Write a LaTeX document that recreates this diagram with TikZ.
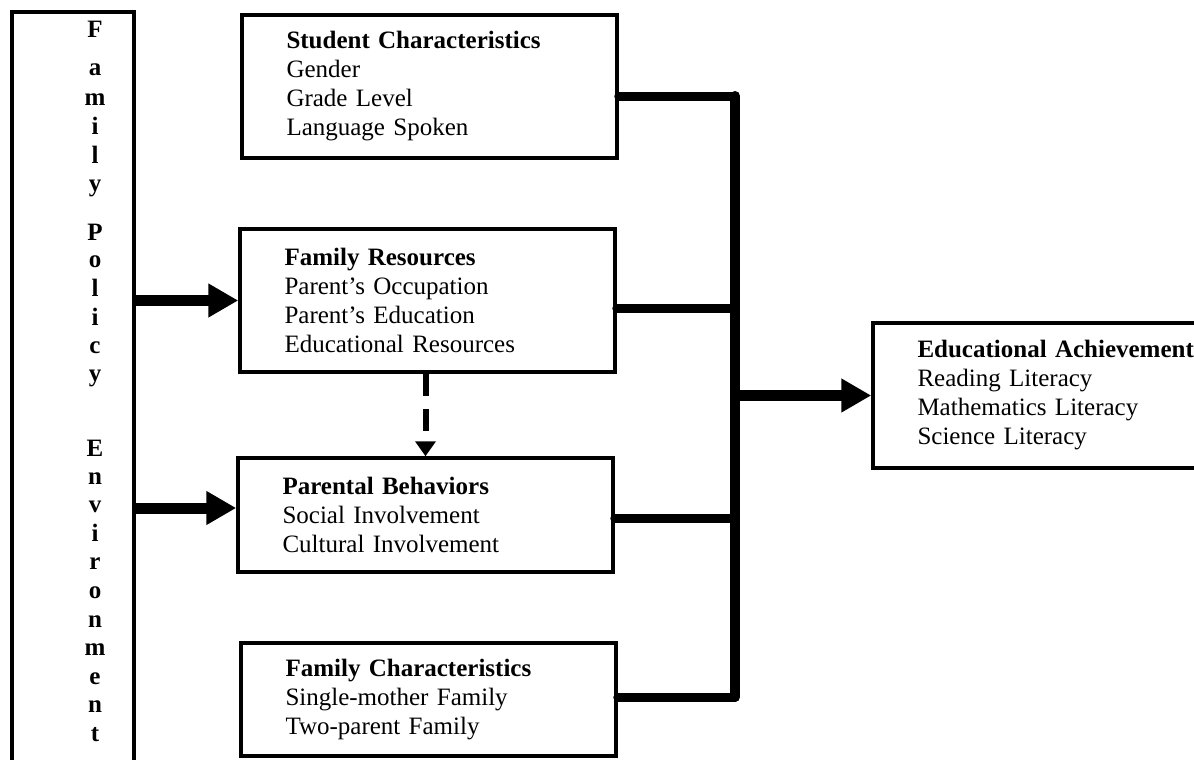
\documentclass[tikz,border=0pt]{standalone}
\usepackage{fontspec}
\setmainfont{Liberation Serif}
\usetikzlibrary{arrows.meta,positioning}

\begin{document}
\begin{tikzpicture}[x=1pt,y=-1pt,
    box/.style={draw, line width=3.5pt, minimum width=375pt, text width=286pt,
      inner xsep=44.5pt, inner ysep=0pt, align=left,
      font=\fontsize{25}{29}\selectfont},
    letter/.style={anchor=base, inner sep=0pt, font=\fontsize{25}{29}\selectfont\bfseries},
    link/.style={line width=9pt, line cap=round},
    bigarrow/.style={line width=11pt, -{Triangle[length=30pt,width=32pt]}},
    dasharrow/.style={line width=6pt, dash pattern=on 22pt off 13pt,
      -{Triangle[length=15pt,width=20pt]}}
    ]
\clip (0,0) rectangle (1194,760);

% left column
\node[draw, line width=3.5pt, minimum width=122pt, minimum height=768pt] (fam) at (73,396) {};
\foreach \ch/\yy [count=\k] in {F/38,a/76,m/105,i/134,l/163,y/191,
    P/240,o/267,l/296,i/325,c/353,y/381,
    E/456,n/484,v/512,i/541,r/569,o/598,n/627,m/655,e/684,n/712,t/741}
  \node[letter] (fpe\k) at (95,\yy) {\ch};

% factor boxes
\node[box, minimum height=143pt] (stud) at (429.5,86.5)
  {\textbf{Student Characteristics}\\Gender\\Grade Level\\Language Spoken};
\node[box, minimum height=143pt] (fres) at (427.5,300.5)
  {\textbf{Family Resources}\\Parent’s Occupation\\Parent’s Education\\Educational Resources};
\node[box, minimum height=114pt] (pbeh) at (425.5,515)
  {\textbf{Parental Behaviors}\\Social Involvement\\Cultural Involvement};
\node[box, minimum height=113pt] (fchar) at (428.5,699.5)
  {\textbf{Family Characteristics}\\Single-mother Family\\Two-parent Family};
\node[box, minimum width=377pt, text width=288pt, minimum height=145pt] (edu) at (1061.5,395.5)
  {\textbf{Educational Achievement}\\Reading Literacy\\Mathematics Literacy\\Science Literacy};

% policy arrows
\coordinate (in2) at (fam.east |- 0,508);
\draw[bigarrow] (fam.east |- fres.west) -- (fres.west);
\draw[bigarrow] (in2) -- (in2 -| pbeh.west);
\draw[dasharrow] (pbeh.north |- fres.south) -- (pbeh.north);

% joining bar
\coordinate (j1) at (735,96);
\coordinate (j2) at (735,308);
\coordinate (j3) at (735,518);
\coordinate (j4) at (735,697);
\draw[link] (stud.east |- j1) -- (j1);
\draw[link] (fres.east |- j2) -- (j2);
\draw[link] (pbeh.east |- j3) -- (j3);
\draw[link] (fchar.east |- j4) -- (j4);
\draw[line width=10pt, line cap=round] (j1) -- (j4);
\draw[bigarrow] (j1 |- edu.west) -- (edu.west);
\end{tikzpicture}
\end{document}
